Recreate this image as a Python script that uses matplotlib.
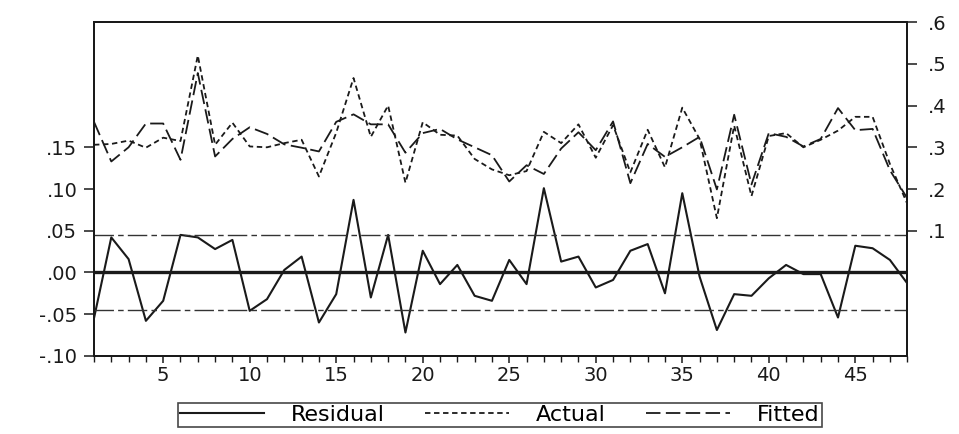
import numpy as np
import matplotlib
matplotlib.use("Agg")
from matplotlib import pyplot as plt
from matplotlib.ticker import FixedLocator, MultipleLocator

# observations
obs = np.arange(1, 49)

residual = [-0.055, 0.042, 0.016, -0.058, -0.034, 0.045, 0.042, 0.028, 0.039, -0.046,
            -0.032, 0.003, 0.019, -0.060, -0.026, 0.087, -0.030, 0.045, -0.072, 0.026,
            -0.014, 0.009, -0.028, -0.034, 0.015, -0.014, 0.101, 0.013, 0.019, -0.018,
            -0.009, 0.026, 0.034, -0.025, 0.095, -0.005, -0.069, -0.026, -0.028, -0.007,
            0.009, -0.002, -0.002, -0.054, 0.032, 0.029, 0.015, -0.013]

actual = [0.306, 0.308, 0.316, 0.299, 0.323, 0.315, 0.520, 0.306, 0.359, 0.302,
          0.300, 0.310, 0.318, 0.230, 0.335, 0.466, 0.325, 0.400, 0.215, 0.360,
          0.330, 0.328, 0.272, 0.247, 0.233, 0.243, 0.337, 0.310, 0.355, 0.275,
          0.353, 0.240, 0.342, 0.252, 0.395, 0.320, 0.130, 0.352, 0.183, 0.327,
          0.334, 0.300, 0.318, 0.340, 0.373, 0.373, 0.260, 0.165]

fitted = [0.361, 0.266, 0.300, 0.357, 0.357, 0.270, 0.478, 0.278, 0.320, 0.348,
          0.332, 0.307, 0.299, 0.290, 0.361, 0.379, 0.355, 0.355, 0.287, 0.334,
          0.344, 0.319, 0.300, 0.281, 0.218, 0.257, 0.236, 0.297, 0.336, 0.293,
          0.362, 0.214, 0.308, 0.277, 0.300, 0.325, 0.199, 0.378, 0.211, 0.334,
          0.325, 0.302, 0.320, 0.394, 0.341, 0.344, 0.245, 0.178]

resid_sd = 0.045

left_ticks = [-0.10, -0.05, 0.00, 0.05, 0.10, 0.15]
left_labels = ["-.10", "-.05", ".00", ".05", ".10", ".15"]
right_ticks = [0.1, 0.2, 0.3, 0.4, 0.5, 0.6]
right_labels = [".1", ".2", ".3", ".4", ".5", ".6"]
x_ticks = [5, 10, 15, 20, 25, 30, 35, 40, 45]

plt.rcParams['font.family'] = ['DejaVu Sans']
INK = '#1a1a1a'

fig = plt.figure(figsize=(9.59, 4.34), dpi=100)
ax1 = fig.add_axes([0.098, 0.180, 0.848, 0.769])
ax2 = ax1.twinx()

# residual panel on the left scale
ax1.plot(obs, residual, color=INK, lw=1.5, label="Residual")
ax1.axhline(0, color=INK, lw=2.4)
for s in (resid_sd, -resid_sd):
    ax1.axhline(s, color='#333333', lw=1.0, ls=(0, (14, 3, 4, 3)))
ax1.set_ylim(-0.10, 0.30)
ax1.set_xlim(1, 48)

# actual and fitted on the right scale
ax2.plot(obs, actual, color=INK, lw=1.3, ls=(0, (3, 2)), label="Actual")
ax2.plot(obs, fitted, color=INK, lw=1.3, ls=(0, (8, 3)), label="Fitted")
ax2.set_ylim(-0.2, 0.6)

ax1.yaxis.set_major_locator(FixedLocator(left_ticks))
ax1.set_yticklabels(left_labels)
ax2.yaxis.set_major_locator(FixedLocator(right_ticks))
ax2.set_yticklabels(right_labels)
ax1.xaxis.set_major_locator(FixedLocator(x_ticks))
ax1.xaxis.set_minor_locator(MultipleLocator(1))

for ax in (ax1, ax2):
    for sp in ax.spines.values():
        sp.set_color(INK)
        sp.set_linewidth(1.4)
    ax.tick_params(axis='both', which='major', direction='out', length=7,
                   width=1.1, color=INK, labelsize=14, labelcolor=INK)
ax1.tick_params(axis='y', which='major', pad=5)
ax2.tick_params(axis='y', which='major', pad=8)
ax1.tick_params(axis='x', which='minor', direction='out', length=4, width=1.0, color=INK)
ax1.tick_params(axis='x', which='major', length=5, pad=2)

h1, l1 = ax1.get_legend_handles_labels()
h2, l2 = ax2.get_legend_handles_labels()
leg = fig.legend(h1 + h2, l1 + l2, loc='center', bbox_to_anchor=(0.521, 0.044),
                 ncol=3, frameon=True, fancybox=False, fontsize=16,
                 handlelength=3.8, columnspacing=1.8, handletextpad=1.2,
                 borderpad=0.1, borderaxespad=0, edgecolor=INK)
leg.get_frame().set_linewidth(1.2)

fig.savefig('out.png', dpi=100)
